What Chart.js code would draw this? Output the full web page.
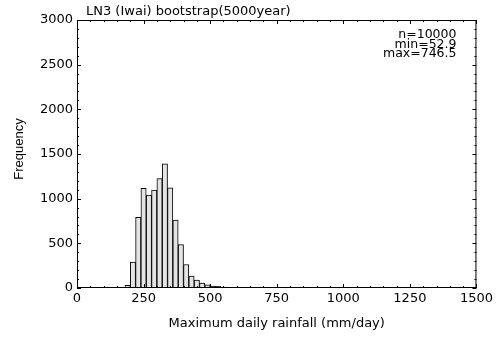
<!DOCTYPE html>
<html>
<head>
<meta charset="utf-8">
<script src="https://cdn.jsdelivr.net/npm/chart.js@4/dist/chart.umd.min.js"></script>
<style>
  html, body { margin: 0; padding: 0; background: #fff; }
</style>
</head>
<body>
<canvas id="hist" width="496" height="340"></canvas>
<script>
'use strict';

// histogram bins, 20 mm/day wide (centre of each bin)
var binCenters = [150, 170, 190, 210, 230, 250, 270, 290, 310, 330, 350, 370, 390,
                  410, 430, 450, 470, 490, 510, 530, 550, 570, 590, 610, 630, 650];
var binCounts  = [1, 5, 30, 290, 790, 1115, 1040, 1095, 1225, 1390, 1120, 761, 485,
                  263, 133, 90, 54, 35, 22, 20, 10, 6, 4, 3, 2, 1];

var xTickStep = 250, xMinorStep = 50;
var yTickStep = 500, yMinorStep = 100;

var titleText = 'LN3 (Iwai) bootstrap(5000year)';
var statLines = ['n=10000', 'min=52.9', 'max=746.5'];
var xTitle = 'Maximum daily rainfall (mm/day)';
var yTitle = 'Frequency';

Chart.defaults.color = '#000';
Chart.defaults.font.family = '"DejaVu Sans", sans-serif';
Chart.defaults.font.size = 13;

// plain integers on the axes, no thousands separator
function plainTick(value) {
  return String(value);
}

// box around the plot, inward ticks on all four sides, and the text
var framePlugin = {
  id: 'frame',
  afterDatasetsDraw: function(chart) {
    var ctx = chart.ctx;
    var a = chart.chartArea;
    var xs = chart.scales.x, ys = chart.scales.y;
    var v, p, len;

    ctx.save();
    ctx.strokeStyle = '#000';
    ctx.lineWidth = 1;
    ctx.beginPath();
    ctx.rect(a.left + 0.5, a.top + 0.5, a.right - a.left - 1, a.bottom - a.top - 1);

    for (v = xs.min; v <= xs.max; v += xMinorStep) {
      p = Math.round(xs.getPixelForValue(v)) + 0.5;
      len = (v % xTickStep === 0) ? 4 : 2;
      ctx.moveTo(p, a.bottom); ctx.lineTo(p, a.bottom - len);
      ctx.moveTo(p, a.top); ctx.lineTo(p, a.top + len);
    }
    for (v = ys.min; v <= ys.max; v += yMinorStep) {
      p = Math.round(ys.getPixelForValue(v)) + 0.5;
      len = (v % yTickStep === 0) ? 4 : 2;
      ctx.moveTo(a.left, p); ctx.lineTo(a.left + len, p);
      ctx.moveTo(a.right, p); ctx.lineTo(a.right - len, p);
    }
    ctx.stroke();

    ctx.fillStyle = '#000';
    ctx.font = '13px "DejaVu Sans", sans-serif';
    ctx.textBaseline = 'alphabetic';
    ctx.textAlign = 'left';
    ctx.fillText(titleText, a.left + 9, a.top - 5);

    ctx.font = '12.5px "DejaVu Sans", sans-serif';
    ctx.textAlign = 'right';
    statLines.forEach(function(s, i) {
      ctx.fillText(s, a.right - 20, a.top + 18 + i * 9.7);
    });

    // y title, rotated
    ctx.font = '13px "Liberation Sans", Arial, sans-serif';
    ctx.translate(19, 149);
    ctx.rotate(-Math.PI / 2);
    ctx.textAlign = 'center';
    ctx.textBaseline = 'middle';
    ctx.fillText(yTitle, 0, 0);
    ctx.restore();
  }
};

var points = binCenters.map(function(x, i) { return { x: x, y: binCounts[i] }; });

var histChart = new Chart(document.getElementById('hist'), {
  type: 'bar',
  data: {
    datasets: [{
      data: points,
      backgroundColor: '#e4e4e4',
      borderColor: '#000',
      borderWidth: 1,
      barPercentage: 1,
      categoryPercentage: 1
    }]
  },
  options: {
    responsive: false,
    animation: false,
    events: [],
    layout: { padding: { top: 20, right: 18, left: 0, bottom: 0 } },
    plugins: {
      legend: { display: false },
      tooltip: { enabled: false }
    },
    scales: {
      x: {
        type: 'linear',
        offset: false,
        min: 0,
        max: 1500,
        grid: { display: false, drawTicks: false },
        border: { display: false },
        ticks: { stepSize: xTickStep, padding: 3, maxRotation: 0, callback: plainTick },
        title: { display: true, text: xTitle, padding: { top: 0, bottom: 9 } },
        afterFit: function(scale) { scale.height = 52; }
      },
      y: {
        min: 0,
        max: 3000,
        grid: { display: false, drawTicks: false },
        border: { display: false },
        ticks: { stepSize: yTickStep, padding: 4, callback: plainTick },
        afterFit: function(scale) { scale.width = 77; }
      }
    }
  },
  plugins: [framePlugin]
});
</script>
</body>
</html>
